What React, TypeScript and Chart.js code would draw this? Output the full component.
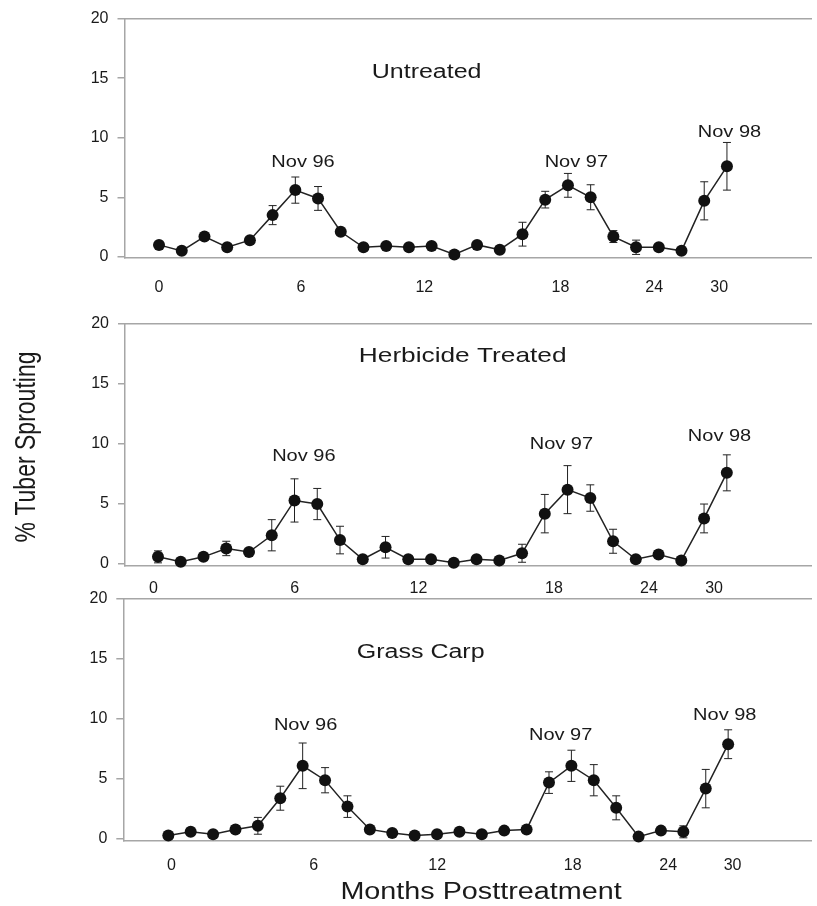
import React, { useEffect, useRef } from "react";
import { Chart, registerables } from "chart.js";

Chart.register(...registerables);

// ---- data ----
const samplePositions = [0, 1, 2, 3, 4, 5, 6, 7, 8, 9, 10, 11, 12, 13, 14, 15, 16, 17, 18, 19, 20, 21, 22, 23, 24, 25];
const monthTickLabels = ["0", "6", "12", "18", "24", "30"];
const untreatedTickPositions = [0, 6.25, 11.68, 17.67, 21.8, 24.66];
const herbicideTickPositions = [-0.2, 6.01, 11.45, 17.4, 21.58, 24.44];
const grassCarpTickPositions = [0.14, 6.49, 12.01, 18.06, 22.32, 25.2];
const yTickValues = [0, 5, 10, 15, 20];

const untreatedValues = [1.0, 0.5, 1.7, 0.8, 1.4, 3.5, 5.6, 4.9, 2.1, 0.8, 0.9, 0.8, 0.9, 0.2, 1.0, 0.6, 1.9, 4.8, 6.0, 5.0, 1.7, 0.8, 0.8, 0.5, 4.7, 7.6];
const untreatedErrors = [0, 0, 0, 0, 0, 0.8, 1.1, 1.0, 0, 0, 0, 0, 0, 0, 0, 0, 1.0, 0.7, 1.0, 1.05, 0.5, 0.6, 0, 0, 1.6, 2.0];

const herbicideValues = [0.6, 0.2, 0.6, 1.3, 1.0, 2.4, 5.3, 5.0, 2.0, 0.4, 1.4, 0.4, 0.4, 0.1, 0.4, 0.3, 0.9, 4.2, 6.2, 5.5, 1.9, 0.4, 0.8, 0.3, 3.8, 7.6];
const herbicideErrors = [0.5, 0, 0.3, 0.6, 0.3, 1.3, 1.8, 1.3, 1.15, 0, 0.9, 0.3, 0.3, 0, 0, 0, 0.75, 1.6, 2.0, 1.1, 1.0, 0, 0.3, 0, 1.2, 1.5];

const grassCarpValues = [0.3, 0.6, 0.4, 0.8, 1.1, 3.4, 6.1, 4.9, 2.7, 0.8, 0.5, 0.3, 0.4, 0.6, 0.4, 0.7, 0.8, 4.7, 6.1, 4.9, 2.6, 0.2, 0.7, 0.6, 4.2, 7.9];
const grassCarpErrors = [0, 0, 0, 0.3, 0.7, 1.0, 1.9, 1.05, 0.9, 0, 0, 0, 0, 0, 0, 0, 0, 0.9, 1.3, 1.3, 1.0, 0, 0.3, 0.5, 1.6, 1.2];

const peakLabels = ["Nov 96", "Nov 97", "Nov 98"];
const panelTitles = ["Untreated", "Herbicide Treated", "Grass Carp"];
const yAxisTitle = "% Tuber Sprouting";
const xAxisTitle = "Months Posttreatment";

// ---- layout (positions in data units / pixels) ----
const FONT = "'Liberation Sans', Arial, Helvetica, sans-serif";
const STRETCH = 1.25;
const AXIS_COLOR = "#a6a6a6";

type Panel = {
  title: string;
  values: number[];
  errors: number[];
  tickPositions: number[];
  titleAt: [number, number];
  titleSize: number;
  peakAt: [number, number][];
  top: number;
  height: number;
  axisLeft: number;
  xMin: number;
  xMax: number;
  yMin: number;
  padTop: number;
  xAxisHeight: number;
  tickPadding: number;
  extra?: "ytitle" | "xtitle";
};

const PANELS: Panel[] = [
  {
    title: panelTitles[0], values: untreatedValues, errors: untreatedErrors, tickPositions: untreatedTickPositions,
    titleAt: [11.78, 15.46], titleSize: 20, peakAt: [[6.34, 7.9], [18.37, 7.87], [25.11, 10.47]],
    top: 0, height: 300, axisLeft: 124.5, xMin: -1.52, xMax: 28.7, yMin: -0.1, padTop: 16, xAxisHeight: 42, tickPadding: 20,
  },
  {
    title: panelTitles[1], values: herbicideValues, errors: herbicideErrors, tickPositions: herbicideTickPositions,
    titleAt: [13.39, 17.28], titleSize: 21, peakAt: [[6.41, 8.94], [17.73, 9.92], [24.68, 10.6]],
    top: 300, height: 300, axisLeft: 125, xMin: -1.45, xMax: 28.7, yMin: -0.12, padTop: 24, xAxisHeight: 34.5, tickPadding: 13.5,
    extra: "ytitle",
  },
  {
    title: panelTitles[2], values: grassCarpValues, errors: grassCarpErrors, tickPositions: grassCarpTickPositions,
    titleAt: [11.27, 15.56], titleSize: 20, peakAt: [[6.13, 9.44], [17.52, 8.6], [24.85, 10.27]],
    top: 580, height: 326, axisLeft: 123.3, xMin: -2.01, xMax: 28.7, yMin: -0.14, padTop: 19, xAxisHeight: 65.3, tickPadding: 15,
    extra: "xtitle",
  },
];

function stretchedText(ctx: CanvasRenderingContext2D, text: string, x: number, y: number, size: number, rotate = false) {
  ctx.save();
  ctx.translate(x, y);
  ctx.scale(STRETCH, 1);
  if (rotate) ctx.rotate(-Math.PI / 2);
  ctx.font = `${size}px ${FONT}`;
  ctx.fillStyle = "#1a1a1a";
  ctx.textAlign = "center";
  ctx.textBaseline = "middle";
  ctx.fillText(text, 0, 0);
  ctx.restore();
}

function PanelChart({ p }: { p: Panel }) {
  const ref = useRef<HTMLCanvasElement | null>(null);
  useEffect(() => {
    if (!ref.current) return;
    const errorBars = {
      id: "errorBars",
      beforeDatasetsDraw(chart: any) {
        const ctx = chart.ctx as CanvasRenderingContext2D;
        const xs = chart.scales.x;
        const ys = chart.scales.y;
        ctx.save();
        ctx.strokeStyle = "#222";
        ctx.lineWidth = 1;
        p.values.forEach((v, i) => {
          const e = p.errors[i];
          if (!e) return;
          const x = xs.getPixelForValue(samplePositions[i]);
          const y1 = ys.getPixelForValue(v + e);
          const y2 = ys.getPixelForValue(v - e);
          ctx.beginPath();
          ctx.moveTo(x, y1);
          ctx.lineTo(x, y2);
          ctx.moveTo(x - 4, y1);
          ctx.lineTo(x + 4, y1);
          ctx.moveTo(x - 4, y2);
          ctx.lineTo(x + 4, y2);
          ctx.stroke();
        });
        ctx.restore();
      },
    };
    const texts = {
      id: "texts",
      afterDraw(chart: any) {
        const ctx = chart.ctx as CanvasRenderingContext2D;
        const xs = chart.scales.x;
        const ys = chart.scales.y;
        stretchedText(ctx, p.title, xs.getPixelForValue(p.titleAt[0]), ys.getPixelForValue(p.titleAt[1]), p.titleSize);
        p.peakAt.forEach((pos, i) => {
          stretchedText(ctx, peakLabels[i], xs.getPixelForValue(pos[0]), ys.getPixelForValue(pos[1]), 16);
        });
        if (p.extra === "ytitle") {
          stretchedText(ctx, yAxisTitle, 27.5, 147, 23, true);
        }
        if (p.extra === "xtitle") {
          stretchedText(ctx, xAxisTitle, 481, 313, 23);
        }
      },
    };
    const chart = new Chart(ref.current, {
      type: "line",
      data: {
        datasets: [
          {
            data: p.values.map((v, i) => ({ x: samplePositions[i], y: v })),
            borderColor: "#222",
            borderWidth: 1.5,
            pointRadius: 6,
            pointBackgroundColor: "#111",
            pointBorderColor: "#111",
            pointBorderWidth: 0,
            tension: 0,
            clip: false as any,
          },
        ],
      },
      options: {
        animation: false,
        responsive: false,
        layout: { padding: { top: p.padTop, left: 0, right: 0, bottom: 0 } },
        plugins: { legend: { display: false }, tooltip: { enabled: false }, title: { display: false } },
        scales: {
          x: {
            type: "linear",
            position: "bottom",
            min: p.xMin,
            max: p.xMax,
            afterBuildTicks: (s: any) => {
              s.ticks = p.tickPositions.map((v) => ({ value: v }));
            },
            afterFit: (s: any) => {
              s.height = p.xAxisHeight;
            },
            ticks: {
              autoSkip: false,
              maxRotation: 0,
              padding: p.tickPadding,
              color: "#1a1a1a",
              font: { family: FONT, size: 16 },
              callback: (_v: any, i: number) => monthTickLabels[i],
            },
            grid: { display: false, drawTicks: false },
            border: { display: true, color: AXIS_COLOR, width: 1.5 },
          },
          x2: {
            type: "linear",
            position: "top",
            min: p.xMin,
            max: p.xMax,
            afterFit: (s: any) => {
              s.height = 0;
            },
            ticks: { display: false },
            grid: { display: false, drawTicks: false },
            border: { display: true, color: AXIS_COLOR, width: 1.5 },
          },
          y: {
            type: "linear",
            position: "left",
            min: p.yMin,
            max: 20,
            afterBuildTicks: (s: any) => {
              s.ticks = yTickValues.map((v) => ({ value: v }));
            },
            afterFit: (s: any) => {
              s.width = p.axisLeft;
            },
            ticks: {
              padding: 9,
              color: "#1a1a1a",
              font: { family: FONT, size: 16 },
              callback: (v: any) => String(v),
            },
            grid: { display: true, drawOnChartArea: false, drawTicks: true, tickLength: 7, color: AXIS_COLOR, lineWidth: 1.5 },
            border: { display: true, color: AXIS_COLOR, width: 1.5 },
          },
        },
      } as any,
      plugins: [errorBars, texts],
    });
    return () => chart.destroy();
  }, [p]);
  return (
    <canvas
      ref={ref}
      width={817}
      height={p.height}
      style={{ position: "absolute", left: 0, top: p.top, width: 817, height: p.height }}
    />
  );
}

export default function App() {
  useEffect(() => {
    document.body.style.margin = "0";
    document.body.style.background = "#ffffff";
  }, []);
  return (
    <div style={{ position: "relative", width: 817, height: 906, background: "#fff", overflow: "hidden" }}>
      {PANELS.map((p, i) => (
        <PanelChart key={i} p={p} />
      ))}
    </div>
  );
}
